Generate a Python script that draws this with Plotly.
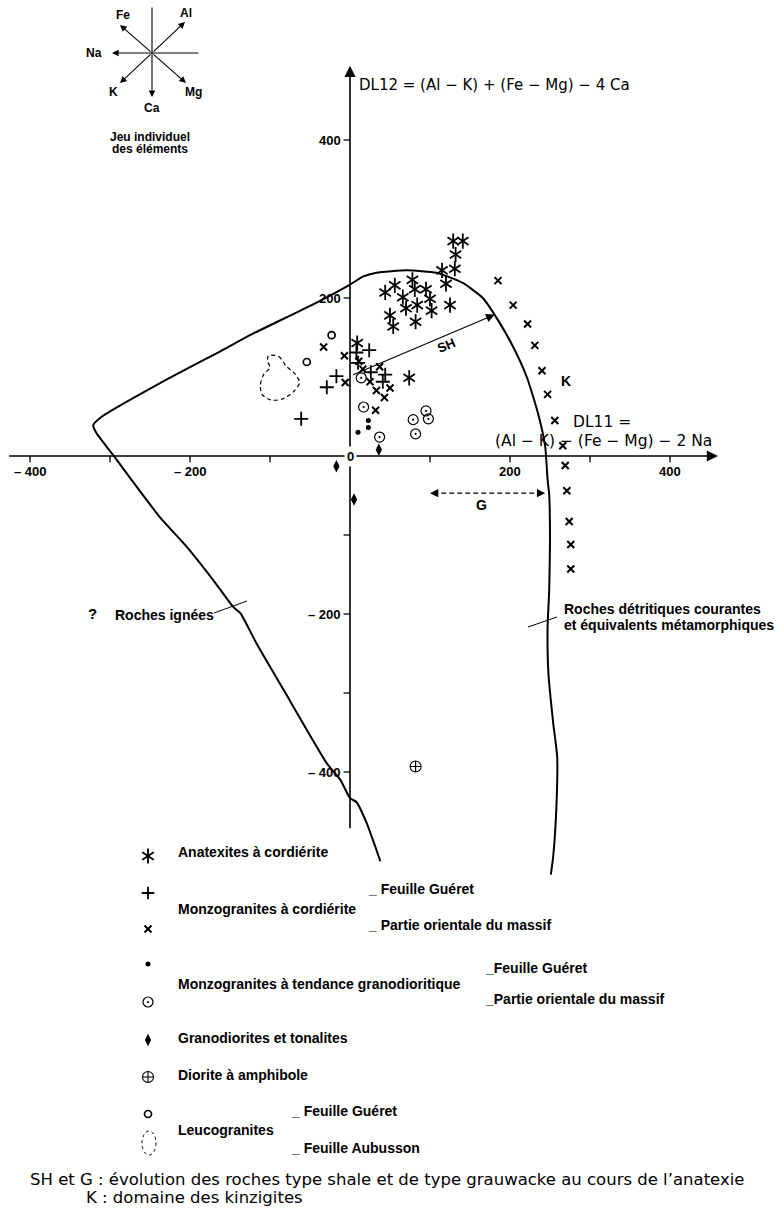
import plotly.graph_objects as go

# ---------------- data (DL11, DL12) ----------------
anat_x = [129, 141, 132, 115, 131, 120, 78, 56, 44, 81, 95, 66, 100, 84, 70, 102, 125, 50, 54, 82, 9, 74]
anat_y = [272, 272, 255, 235, 237, 218, 223, 216, 207, 211, 211, 201, 199, 191, 187, 184, 191, 178, 164, 170, 143, 99]

plus_x = [8, 24, -17, -29, -61, 26, 44, 41, 10]
plus_y = [131, 134, 101, 87, 47, 106, 103, 94, 118]

cross_x = [-33, -7, 11, 37, 25, -6, 33, 50, 43, 32, 16,
           185, 204, 222, 231, 240, 247, 256, 266, 269, 271, 274, 276, 276]
cross_y = [138, 127, 120, 113, 94, 93, 83, 86, 74, 58, 110,
           222, 191, 167, 140, 108, 78, 45, 13, -12, -44, -83, -112, -143]

dot_x = [23, 23, 10]
dot_y = [45, 36, 30]

cdot_x = [14, 17, 37, 79, 95, 98, 82]
cdot_y = [99, 62, 24, 46, 57, 47, 28]

diam_x = [36, -17, 5]
diam_y = [8, -13, -55]

dior_x = [82]
dior_y = [-393]

leuco_x = [-23, -54]
leuco_y = [153, 119]

aub_x = [-102, -89, -80, -68, -63, -70, -85, -99, -110, -112, -108, -100, -103, -102]
aub_y = [127, 126, 114, 103, 93, 82, 72, 71, 78, 90, 103, 112, 120, 127]

# boundary curve (igneous / detrital rocks)
bound_x = [38, 21, 8, 0, -12, -29, -83, -117, -137, -146, -171, -204, -238, -296,
           -317, -321, -310, -238, -154, -125, -46, 0, 16, 33, 71, 108, 141, 166, 185,
           204, 221, 235, 244, 247, 249, 250, 249, 247, 248, 254, 259, 258, 254, 251]
bound_y = [-513, -465, -438, -433, -410, -389, -296, -237, -199, -191, -157, -115, -77, 1,
           29, 39, 50, 92, 137, 153, 192, 217, 227, 232, 235, 232, 219, 200, 172,
           138, 100, 54, 12, -30, -49, -106, -170, -216, -275, -338, -381, -444, -507, -530]

x_ticks = [-400, -300, -200, -100, 100, 200, 300, 400]
x_tick_labels = {-400: "– 400", -200: "– 200", 200: "200", 400: "400"}
y_ticks = [400, 200, -100, -200, -300, -400]
y_tick_labels = {400: "400", 200: "200", -200: "– 200", -400: "– 400"}

# ---------------- figure ----------------
W, H = 783, 1208
FONT = "Liberation Sans"
WIDE = "DejaVu Sans"
K = "black"

fig = go.Figure()

fig.add_trace(go.Scatter(x=bound_x, y=bound_y, mode="lines",
                         line=dict(color=K, width=2, shape="spline", smoothing=0.5),
                         hoverinfo="skip", showlegend=False))
fig.add_trace(go.Scatter(x=aub_x, y=aub_y, mode="lines",
                         line=dict(color=K, width=1.2, dash="4px,3px", shape="spline", smoothing=0.8),
                         hoverinfo="skip", showlegend=False))


def pts(x, y, symbol, size, lw=1.5, xa="x", ya="y"):
    fig.add_trace(go.Scatter(x=x, y=y, mode="markers", xaxis=xa, yaxis=ya,
                             marker=dict(symbol=symbol, size=size, color=K,
                                         line=dict(color=K, width=lw)),
                             hoverinfo="skip", showlegend=False))


AST = 9.5
pts(anat_x, anat_y, "y-up-open", AST, 1.8)
pts(anat_x, anat_y, "y-down-open", AST, 1.8)
pts(plus_x, plus_y, "cross-thin-open", 10, 1.8)
pts(cross_x, cross_y, "x-thin-open", 7, 2)
pts(dot_x, dot_y, "circle", 5, 0)
pts(cdot_x, cdot_y, "circle-open-dot", 10, 1.2)
pts(diam_x, diam_y, "diamond-tall", 9, 0)
pts(dior_x, dior_y, "circle-cross-open", 11, 1.1)
pts(leuco_x, leuco_y, "circle-open", 7, 1.7)

# legend symbols (pixel coordinate overlay)
pts([148], [856], "y-up-open", AST, 1.8, "x2", "y2")
pts([148], [856], "y-down-open", AST, 1.8, "x2", "y2")
pts([148], [893], "cross-thin-open", 9, 1.8, "x2", "y2")
pts([148], [929], "x-thin-open", 7, 2, "x2", "y2")
pts([148], [964], "circle", 5, 0, "x2", "y2")
pts([148], [1002], "circle-open-dot", 10, 1.2, "x2", "y2")
pts([148], [1040], "diamond-tall", 9, 0, "x2", "y2")
pts([148], [1077], "circle-cross-open", 11, 1.1, "x2", "y2")
pts([148], [1114], "circle-open", 7, 1.7, "x2", "y2")

shapes = []
for t in x_ticks:
    shapes.append(dict(type="line", xref="x", yref="y", x0=t, x1=t, y0=0, y1=-8,
                       line=dict(color=K, width=1.3)))
for t in y_ticks:
    shapes.append(dict(type="line", xref="x", yref="y", x0=-8, x1=0, y0=t, y1=t,
                       line=dict(color=K, width=1.3)))
shapes.append(dict(type="line", xref="x2", yref="y2", x0=214, y0=613, x1=247, y1=601,
                   line=dict(color=K, width=1)))
shapes.append(dict(type="line", xref="x2", yref="y2", x0=528, y0=627, x1=557, y1=617,
                   line=dict(color=K, width=1)))
shapes.append(dict(type="circle", xref="x2", yref="y2", x0=142, x1=156, y0=1131, y1=1155,
                   line=dict(color=K, width=1, dash="dot")))

ann = []


def arrow(x, y, ax, ay, xref="x", yref="y", w=1.5, head=2, size=1.2):
    ann.append(dict(x=x, y=y, ax=ax, ay=ay, xref=xref, yref=yref, axref=xref, ayref=yref,
                    showarrow=True, arrowhead=head, arrowsize=size, arrowwidth=w,
                    arrowcolor=K, text=""))


arrow(460, 0, -428, 0, w=1.6, size=1.4)
arrow(0, 494, 0, -473, w=1.6, size=1.4)
arrow(181, 179, 2, 102, w=1.1, size=1.6)
fig.add_trace(go.Scatter(x=[104, 240], y=[-47, -47], mode="lines",
                         line=dict(color=K, width=1.1, dash="5px,3px"),
                         hoverinfo="skip", showlegend=False))
arrow(244, -47, 236, -47, w=1.1, size=1.5)
arrow(100, -47, 108, -47, w=1.1, size=1.5)

# compass (pixel coordinates)
cx, cy = 152, 53
arrow(152, 97, 152, 6, "x2", "y2", w=1.1, size=1.2)
arrow(112, 53, 200, 53, "x2", "y2", w=1.1, size=1.2)
arrow(120, 25, cx, cy, "x2", "y2", w=1.1, size=1.2)
arrow(185, 22, cx, cy, "x2", "y2", w=1.1, size=1.2)
arrow(120, 83, cx, cy, "x2", "y2", w=1.1, size=1.2)
arrow(186, 83, cx, cy, "x2", "y2", w=1.1, size=1.2)


def txt(x, y, s, size=14, xa="left", ya="middle", angle=0, fam=FONT, bold=True):
    ann.append(dict(x=x, y=y, xref="x2", yref="y2", text=s, showarrow=False,
                    xanchor=xa, yanchor=ya, textangle=angle,
                    font=dict(family=fam, size=size, color=K,
                              weight="bold" if bold else "normal")))


txt(123, 15, "Fe", 12, "center")
txt(186, 13, "Al", 12, "center")
txt(94, 53, "Na", 12, "center")
txt(113, 92, "K", 12, "center")
txt(193, 92, "Mg", 12, "center")
txt(152, 108, "Ca", 12, "center")
txt(150, 137, "Jeu individuel", 12, "center")
txt(150, 149, "des éléments", 12, "center")

txt(357, 85, "DL12 = (Al − K) + (Fe − Mg) − 4 Ca", 15, fam=WIDE, bold=False)
txt(571, 422, "DL11 =", 15.5, fam=WIDE, bold=False)
txt(493, 441, "(Al − K) − (Fe − Mg) − 2 Na", 15.5, fam=WIDE, bold=False)

TF = dict(family=FONT, size=13, color=K, weight="bold")
for t, s in x_tick_labels.items():
    ann.append(dict(x=t, y=-8, xref="x", yref="y", text=s, showarrow=False,
                    xanchor="center", yanchor="top", font=TF))
for t, s in y_tick_labels.items():
    ann.append(dict(x=-9, y=t, xref="x", yref="y", text=s, showarrow=False,
                    xanchor="right", yanchor="middle", font=TF))
ann.append(dict(x=0, y=0, xref="x", yref="y", text="0", showarrow=False,
                xanchor="center", yanchor="middle", bgcolor="white", borderpad=2, font=TF))

txt(446, 345, "SH", 13, "center", angle=-23)
txt(481, 505, "G", 14, "center")
txt(566, 381, "K", 14, "center")
txt(92, 613, "?", 15, "center")
txt(113, 615, "Roches ignées", 14)
txt(562, 609, "Roches détritiques courantes", 14)
txt(562, 625, "et équivalents métamorphiques", 14)

txt(176, 852, "Anatexites à cordiérite")
txt(366, 889, "_ Feuille Guéret")
txt(176, 909, "Monzogranites à cordiérite")
txt(366, 925, "_ Partie orientale du massif")
txt(483, 968, "_Feuille Guéret")
txt(176, 984, "Monzogranites à tendance granodioritique")
txt(483, 999, "_Partie orientale du massif")
txt(176, 1038, "Granodiorites et tonalites")
txt(176, 1075, "Diorite à amphibole")
txt(289, 1111, "_ Feuille Guéret")
txt(176, 1130, "Leucogranites")
txt(289, 1148, "_ Feuille Aubusson")
txt(28, 1179, "SH et G : évolution des roches type shale et de type grauwacke au cours de l’anatexie",
    16.5, fam=WIDE, bold=False)
txt(84, 1197, "K : domaine des kinzigites", 16.5, fam=WIDE, bold=False)

x0_px, y0_px, sx, sy = 350, 456, 0.8, 0.79
xr = [-x0_px / sx, (W - x0_px) / sx]
yr = [-(H - y0_px) / sy, y0_px / sy]

fig.update_layout(
    width=W, height=H, margin=dict(l=0, r=0, t=0, b=0),
    paper_bgcolor="white", plot_bgcolor="white",
    showlegend=False,
    xaxis=dict(range=xr, visible=False, fixedrange=True),
    yaxis=dict(range=yr, visible=False, fixedrange=True),
    xaxis2=dict(range=[0, W], visible=False, overlaying="x", anchor="y2"),
    yaxis2=dict(range=[H, 0], visible=False, overlaying="y", anchor="x2"),
    shapes=shapes, annotations=ann,
)
fig.write_html("out.html")
